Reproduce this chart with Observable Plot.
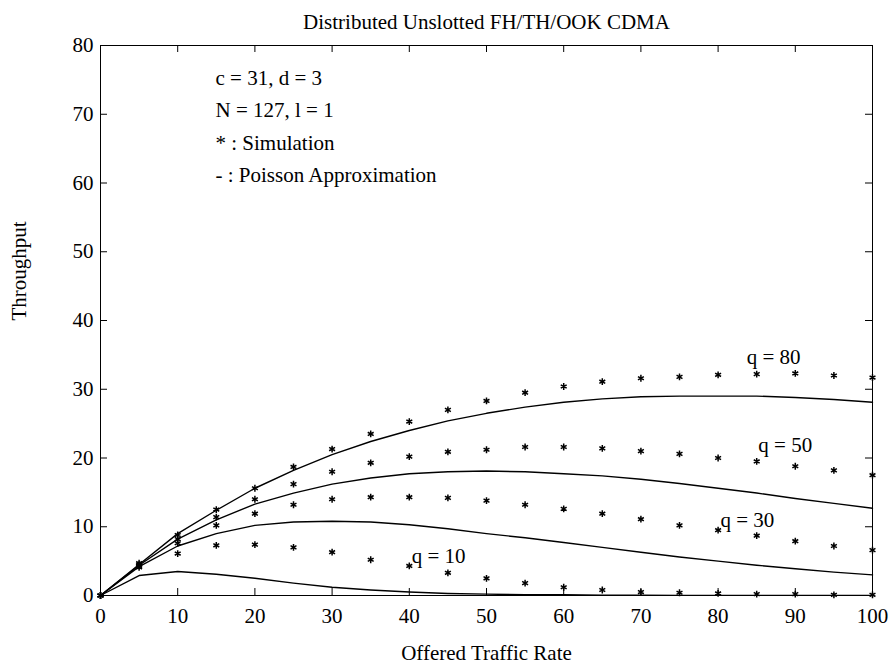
<!DOCTYPE html>
<html>
<head>
<meta charset="utf-8">
<script src="https://cdn.jsdelivr.net/npm/d3@7"></script>
<script src="https://cdn.jsdelivr.net/npm/@observablehq/plot@0.6"></script>
<style>
  html, body { margin: 0; padding: 0; background: #fff; }
  #chart svg { display: block; }
</style>
</head>
<body>
<div id="chart"></div>
<script>
// Offered traffic rate (x) for both curves and simulation points
const traffic = [0, 5, 10, 15, 20, 25, 30, 35, 40, 45, 50, 55, 60, 65, 70, 75, 80, 85, 90, 95, 100];

// Poisson approximation (solid lines)
const poissonQ80 = [0, 4.5, 9.0, 12.4, 15.6, 18.2, 20.5, 22.4, 24.0, 25.4, 26.5, 27.4, 28.1, 28.6, 28.9, 29.0, 29.0, 29.0, 28.8, 28.5, 28.1];
const poissonQ50 = [0, 4.4, 8.2, 11.0, 13.3, 14.9, 16.2, 17.1, 17.7, 18.0, 18.1, 18.0, 17.7, 17.4, 16.9, 16.3, 15.6, 14.9, 14.1, 13.4, 12.7];
const poissonQ30 = [0, 4.2, 7.2, 9.0, 10.2, 10.7, 10.8, 10.7, 10.3, 9.7, 9.0, 8.4, 7.7, 7.0, 6.3, 5.6, 5.0, 4.4, 3.9, 3.4, 3.0];
const poissonQ10 = [0, 2.9, 3.5, 3.1, 2.5, 1.8, 1.2, 0.8, 0.5, 0.3, 0.2, 0.1, 0.1, 0.05, 0.03, 0.02, 0.02, 0.02, 0.02, 0.02, 0.02];

// Simulation (asterisks)
const simQ80 = [0, 4.7, 8.8, 12.5, 15.6, 18.7, 21.3, 23.5, 25.3, 27.0, 28.3, 29.5, 30.4, 31.1, 31.6, 31.8, 32.1, 32.2, 32.3, 32.0, 31.7];
const simQ50 = [0, 4.5, 8.2, 11.4, 14.0, 16.2, 18.0, 19.3, 20.2, 20.9, 21.2, 21.6, 21.6, 21.4, 21.0, 20.6, 20.0, 19.5, 18.8, 18.2, 17.5];
const simQ30 = [0, 4.3, 7.6, 10.2, 11.9, 13.2, 14.0, 14.3, 14.3, 14.2, 13.8, 13.2, 12.6, 11.9, 11.1, 10.2, 9.5, 8.7, 7.9, 7.2, 6.6];
const simQ10 = [0, 4.1, 6.1, 7.3, 7.4, 7.0, 6.3, 5.2, 4.3, 3.3, 2.5, 1.8, 1.2, 0.8, 0.5, 0.4, 0.3, 0.2, 0.2, 0.1, 0.1];

// Curve labels
const qLabels = ["q = 80", "q = 50", "q = 30", "q = 10"];
const qLabelX = [87.2, 88.7, 83.8, 43.8];
const qLabelY = [34.7, 21.9, 10.9, 5.7];

// Axis ticks and texts
const xTicks = [0, 10, 20, 30, 40, 50, 60, 70, 80, 90, 100];
const yTicks = [0, 10, 20, 30, 40, 50, 60, 70, 80];
const titleText = "Distributed Unslotted FH/TH/OOK CDMA";
const xLabelText = "Offered Traffic Rate";
const yLabelText = "Throughput";
const noteLines = ["c = 31, d = 3", "N = 127, l = 1", "* : Simulation", "- : Poisson Approximation"];

// Build tables
const qNames = ["q = 80", "q = 50", "q = 30", "q = 10"];
const poissonSeries = [poissonQ80, poissonQ50, poissonQ30, poissonQ10];
const simSeries = [simQ80, simQ50, simQ30, simQ10];
const lineData = poissonSeries.flatMap((s, i) => s.map((v, j) => ({q: qNames[i], x: traffic[j], y: v})));
const simData = simSeries.flatMap((s, i) => s.map((v, j) => ({q: qNames[i], x: traffic[j], y: v})));
const labelData = qLabels.map((t, i) => ({t, x: qLabelX[i], y: qLabelY[i]}));

const FONT = "Liberation Serif, Times New Roman, serif";
const FS = 21;

const plot = Plot.plot({
  width: 890,
  height: 671,
  marginLeft: 100,
  marginRight: 18,
  marginTop: 45,
  marginBottom: 76,
  style: {fontFamily: FONT, fontSize: FS + "px", color: "#000", background: "#fff"},
  x: {domain: [0, 100], label: null},
  y: {domain: [0, 80], label: null},
  marks: [
    Plot.frame({stroke: "#000", strokeWidth: 1}),
    // inward ticks, all four sides
    Plot.tickX(xTicks, {x: d => d, insetTop: 543, stroke: "#000"}),
    Plot.tickX(xTicks, {x: d => d, insetBottom: 543, stroke: "#000"}),
    Plot.tickY(yTicks, {y: d => d, insetRight: 765, stroke: "#000"}),
    Plot.tickY(yTicks, {y: d => d, insetLeft: 765, stroke: "#000"}),
    Plot.axisX({ticks: xTicks, tickSize: 0, tickPadding: 13, fontSize: FS, label: null}),
    Plot.axisY({ticks: yTicks, tickSize: 0, tickPadding: 7, fontSize: FS, label: null}),
    // Poisson approximation lines
    Plot.line(lineData, {x: "x", y: "y", z: "q", stroke: "#000", strokeWidth: 1.4}),
    // Simulation asterisks
    Plot.dot(simData, {x: "x", y: "y", symbol: "asterisk", r: 3.2, stroke: "#000", strokeWidth: 1.5}),
    // curve labels
    Plot.text(labelData, {x: "x", y: "y", text: "t", fontSize: FS, fill: "#000"}),
    // notes
    Plot.text([noteLines.join("\n")], {frameAnchor: "top-left", dx: 115, dy: 16, lineAnchor: "top", lineHeight: 1.55, textAnchor: "start", fontSize: FS, fill: "#000"}),
    // title
    Plot.text([titleText], {frameAnchor: "top", dy: -17, lineAnchor: "bottom", fontSize: FS, fill: "#000"}),
    // x label
    Plot.text([xLabelText], {frameAnchor: "bottom", dy: 58, lineAnchor: "middle", fontSize: FS, fill: "#000"}),
    // y label
    Plot.text([yLabelText], {frameAnchor: "left", dx: -81, rotate: -90, lineAnchor: "middle", fontSize: FS, fill: "#000"})
  ]
});
document.getElementById("chart").appendChild(plot);
</script>
</body>
</html>
